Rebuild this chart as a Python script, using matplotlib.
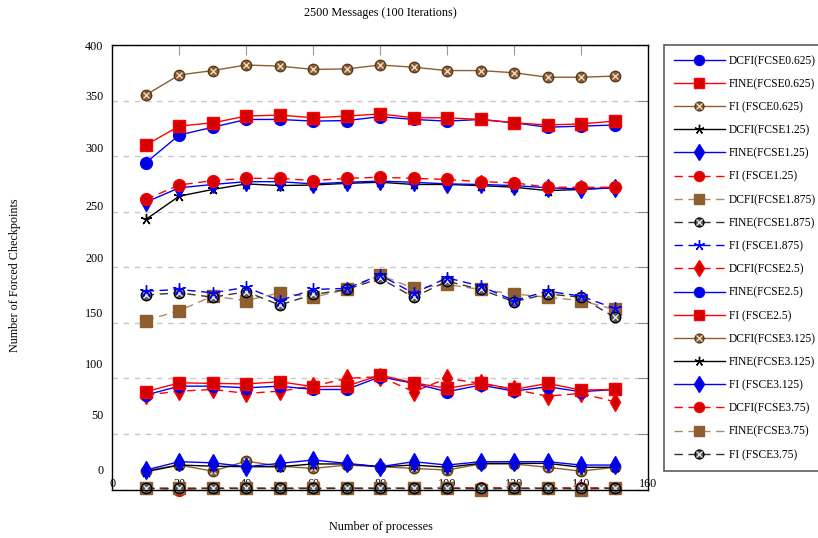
import matplotlib
matplotlib.use('Agg')
import matplotlib.pyplot as plt
import matplotlib.transforms as mtrans

plt.rcParams['font.family'] = ['Liberation Serif', 'DejaVu Serif']

procs = [10, 20, 30, 40, 50, 60, 70, 80, 90, 100, 110, 120, 130, 140, 150]

# FCSE 0.625
dcfi_0625 = [294, 319, 326, 333, 333, 331.5, 332, 335.5, 333, 331.5, 333, 330, 326, 327, 328]
fine_0625 = [310, 327, 330, 336, 337, 334.5, 336, 338, 334.5, 334.5, 333, 330, 328, 329, 331.5]
fi_0625 = [355, 373, 377, 382, 381, 378, 378.5, 382, 380, 377, 377, 375, 371, 371, 372]
# FCSE 1.25
dcfi_125 = [243, 264, 270, 275, 273.5, 274, 275.5, 276.5, 274.5, 274.5, 273.5, 272, 269, 270, 271.5]
fine_125 = [258.5, 271.5, 274.5, 277, 277, 275, 276.5, 277.5, 276.5, 275, 274.5, 273.5, 271.5, 270.5, 271.5]
fi_125 = [261, 274, 278, 280, 280, 278, 280, 281, 280, 279, 277, 276, 272, 272, 272]
# FCSE 1.875
dcfi_1875 = [152, 161, 174, 170, 177, 173, 180, 193, 181, 184.5, 180, 176, 173, 170, 162]
fine_1875 = [175, 177, 173, 178, 166, 175.5, 180, 190, 173, 187.5, 180, 169, 176, 173, 155]
fi_1875 = [178.5, 180, 177, 182, 170, 180, 181, 193, 176.5, 190.5, 183, 170, 178.5, 174, 163]
# FCSE 2.5
dcfi_25 = [85, 88.5, 90, 86.5, 88.5, 93, 100, 101.5, 88, 100, 95.5, 90, 84, 86.5, 79]
fine_25 = [85, 93, 93, 91.5, 93, 90, 90, 101.5, 95.5, 88, 94, 88.5, 92.5, 88, 90]
fi_25 = [88, 96, 95.5, 95, 97, 92.5, 93, 103, 96, 91, 96, 90, 95.5, 89.5, 90]
# FCSE 3.125
dcfi_3125 = [17, 22, 16.5, 25.5, 21, 19, 22, 20.5, 19, 17.5, 23, 23, 20, 16.5, 20]
fine_3125 = [16, 22, 21, 20.5, 20.5, 23, 23, 20.5, 22, 20, 23.5, 23.5, 23.5, 20, 20]
fi_3125 = [17.5, 25, 24, 20.5, 23.5, 26.5, 23.5, 20.5, 25, 22, 25, 25, 25, 22, 22]
# FCSE 3.75
dcfi_375 = [1.5, 0, 1.5, 1.5, 1.5, 1.5, 1.5, 1.5, 1.5, 1.5, 1.5, 1.5, 1.5, 1.5, 1.5]
fine_375 = [1.5, 1.5, 1.5, 1.5, 1.5, 1.5, 1.5, 1.5, 1.5, 1.5, 0, 1.5, 1.5, 0, 1.5]
fi_375 = [1.5, 1.5, 1.5, 1.5, 1.5, 1.5, 1.5, 1.5, 1.5, 1.5, 1.5, 1.5, 1.5, 1.5, 1.5]

series = [dcfi_0625, fine_0625, fi_0625, dcfi_125, fine_125, fi_125,
          dcfi_1875, fine_1875, fi_1875, dcfi_25, fine_25, fi_25,
          dcfi_3125, fine_3125, fi_3125, dcfi_375, fine_375, fi_375]
labels = ['DCFI(FCSE0.625)', 'FINE(FCSE0.625)', 'FI (FSCE0.625)',
          'DCFI(FCSE1.25)', 'FINE(FCSE1.25)', 'FI (FSCE1.25)',
          'DCFI(FCSE1.875)', 'FINE(FCSE1.875)', 'FI (FSCE1.875)',
          'DCFI(FCSE2.5)', 'FINE(FCSE2.5)', 'FI (FSCE2.5)',
          'DCFI(FCSE3.125)', 'FINE(FCSE3.125)', 'FI (FSCE3.125)',
          'DCFI(FCSE3.75)', 'FINE(FCSE3.75)', 'FI (FSCE3.75)']

yticks = [0, 50, 100, 150, 200, 250, 300, 350, 400]
xticks = [0, 20, 40, 60, 80, 100, 120, 140, 160]

blue = '#0000ff'
red = '#ff0000'
brown = '#8f5e2e'
black = '#000000'
dash = (0, (6, 4))
star = (5, 2, 0)
# pgfplots-like cycle list: colour, marker, line style, marker size, fill
cycle = [
    (blue, 'o', '-', 8.5, '#0000e0'),
    (red, 's', '-', 8, '#d40000'),
    (brown, 'otimes', '-', 7.5, brown),
    (black, star, '-', 8, black),
    (blue, 'd', '-', 9, '#0000e0'),
    (red, 'o', dash, 8.5, '#d40000'),
    (brown, 's', dash, 8, brown),
    (black, 'otimes', dash, 7.5, '#555555'),
    (blue, star, dash, 9, blue),
    (red, 'd', dash, 9, '#d40000'),
]

fig = plt.figure(figsize=(8.18, 5.38), dpi=100)
ax = fig.add_axes([112.3 / 818, 1 - 489.5 / 538, (648 - 112.3) / 818, (489.5 - 45) / 538])

handles = []
for i, ys in enumerate(series):
    col, mk, ls, ms, fill = cycle[i % len(cycle)]
    lcol = '#b08a64' if (col == brown and ls != '-') else col
    if mk == 'otimes':
        edge = '#000000' if col == black else '#5a3a1a'
        ln, = ax.plot(procs, ys, color=lcol if col != black else '#333333', ls=ls, lw=1.0,
                      marker='o', ms=ms, mfc=fill, mec=edge, mew=1.0, clip_on=False)
        cross, = ax.plot(procs, ys, ls='none', marker='x', ms=ms * 0.6,
                         mec='#eeeeee' if col == black else '#f2e6d8', mew=0.9, clip_on=False)
        handles.append((ln, cross))
    else:
        ln, = ax.plot(procs, ys, color=lcol, ls=ls, lw=1.0, marker=mk, ms=ms,
                      mfc=fill, mec=col, mew=1.0, clip_on=False)
        handles.append(ln)

ax.set_xlim(0, 160)
ax.set_ylim(0, 400)
ax.set_axisbelow(True)
ax.yaxis.grid(True, color='#c8c8c8', ls=(0, (4, 4)), lw=1.0)
for sp in ax.spines.values():
    sp.set_color('black')
    sp.set_linewidth(1.0)

ax.set_xticks(xticks)
ax.set_yticks(yticks)
ax.tick_params(axis='x', bottom=False, top=True, direction='in', length=7,
               color='#999999', pad=-8, labelsize=8.7)
ax.tick_params(axis='y', left=False, right=True, direction='in', length=7,
               color='#888888', pad=6.5, labelsize=8.7)

# y labels in the original sit above their grid lines by a drifting amount (px)
label_nudge_px = [20, 19, 15, 10.8, 9.3, 6.3, 8.3, 5.5, 0]
for lab, dy in zip(ax.get_yticklabels(), label_nudge_px):
    lab.set_transform(lab.get_transform() + mtrans.ScaledTranslation(0, dy / 100, fig.dpi_scale_trans))

fig.text(380 / 818, 1 - 13 / 538, '2500 Messages (100 Iterations)', ha='center', va='center', fontsize=8.7)
fig.text(381 / 818, 1 - 527 / 538, 'Number of processes', ha='center', va='center', fontsize=8.8)
fig.text(15 / 818, 1 - 275 / 538, 'Number of Forced Checkpoints', ha='center', va='center',
         rotation=90, fontsize=8.7)

leg = fig.legend(handles, labels, loc='upper left', bbox_to_anchor=(664 / 818, 1 - 45 / 538),
                 bbox_transform=fig.transFigure, fontsize=8.3, frameon=True, fancybox=False,
                 edgecolor='#333333', borderaxespad=0, labelspacing=0.97, handlelength=4.4,
                 handletextpad=0.4, borderpad=0.85, markerscale=0.85)
leg.get_frame().set_linewidth(1.2)

fig.savefig('out.png', dpi=100)
